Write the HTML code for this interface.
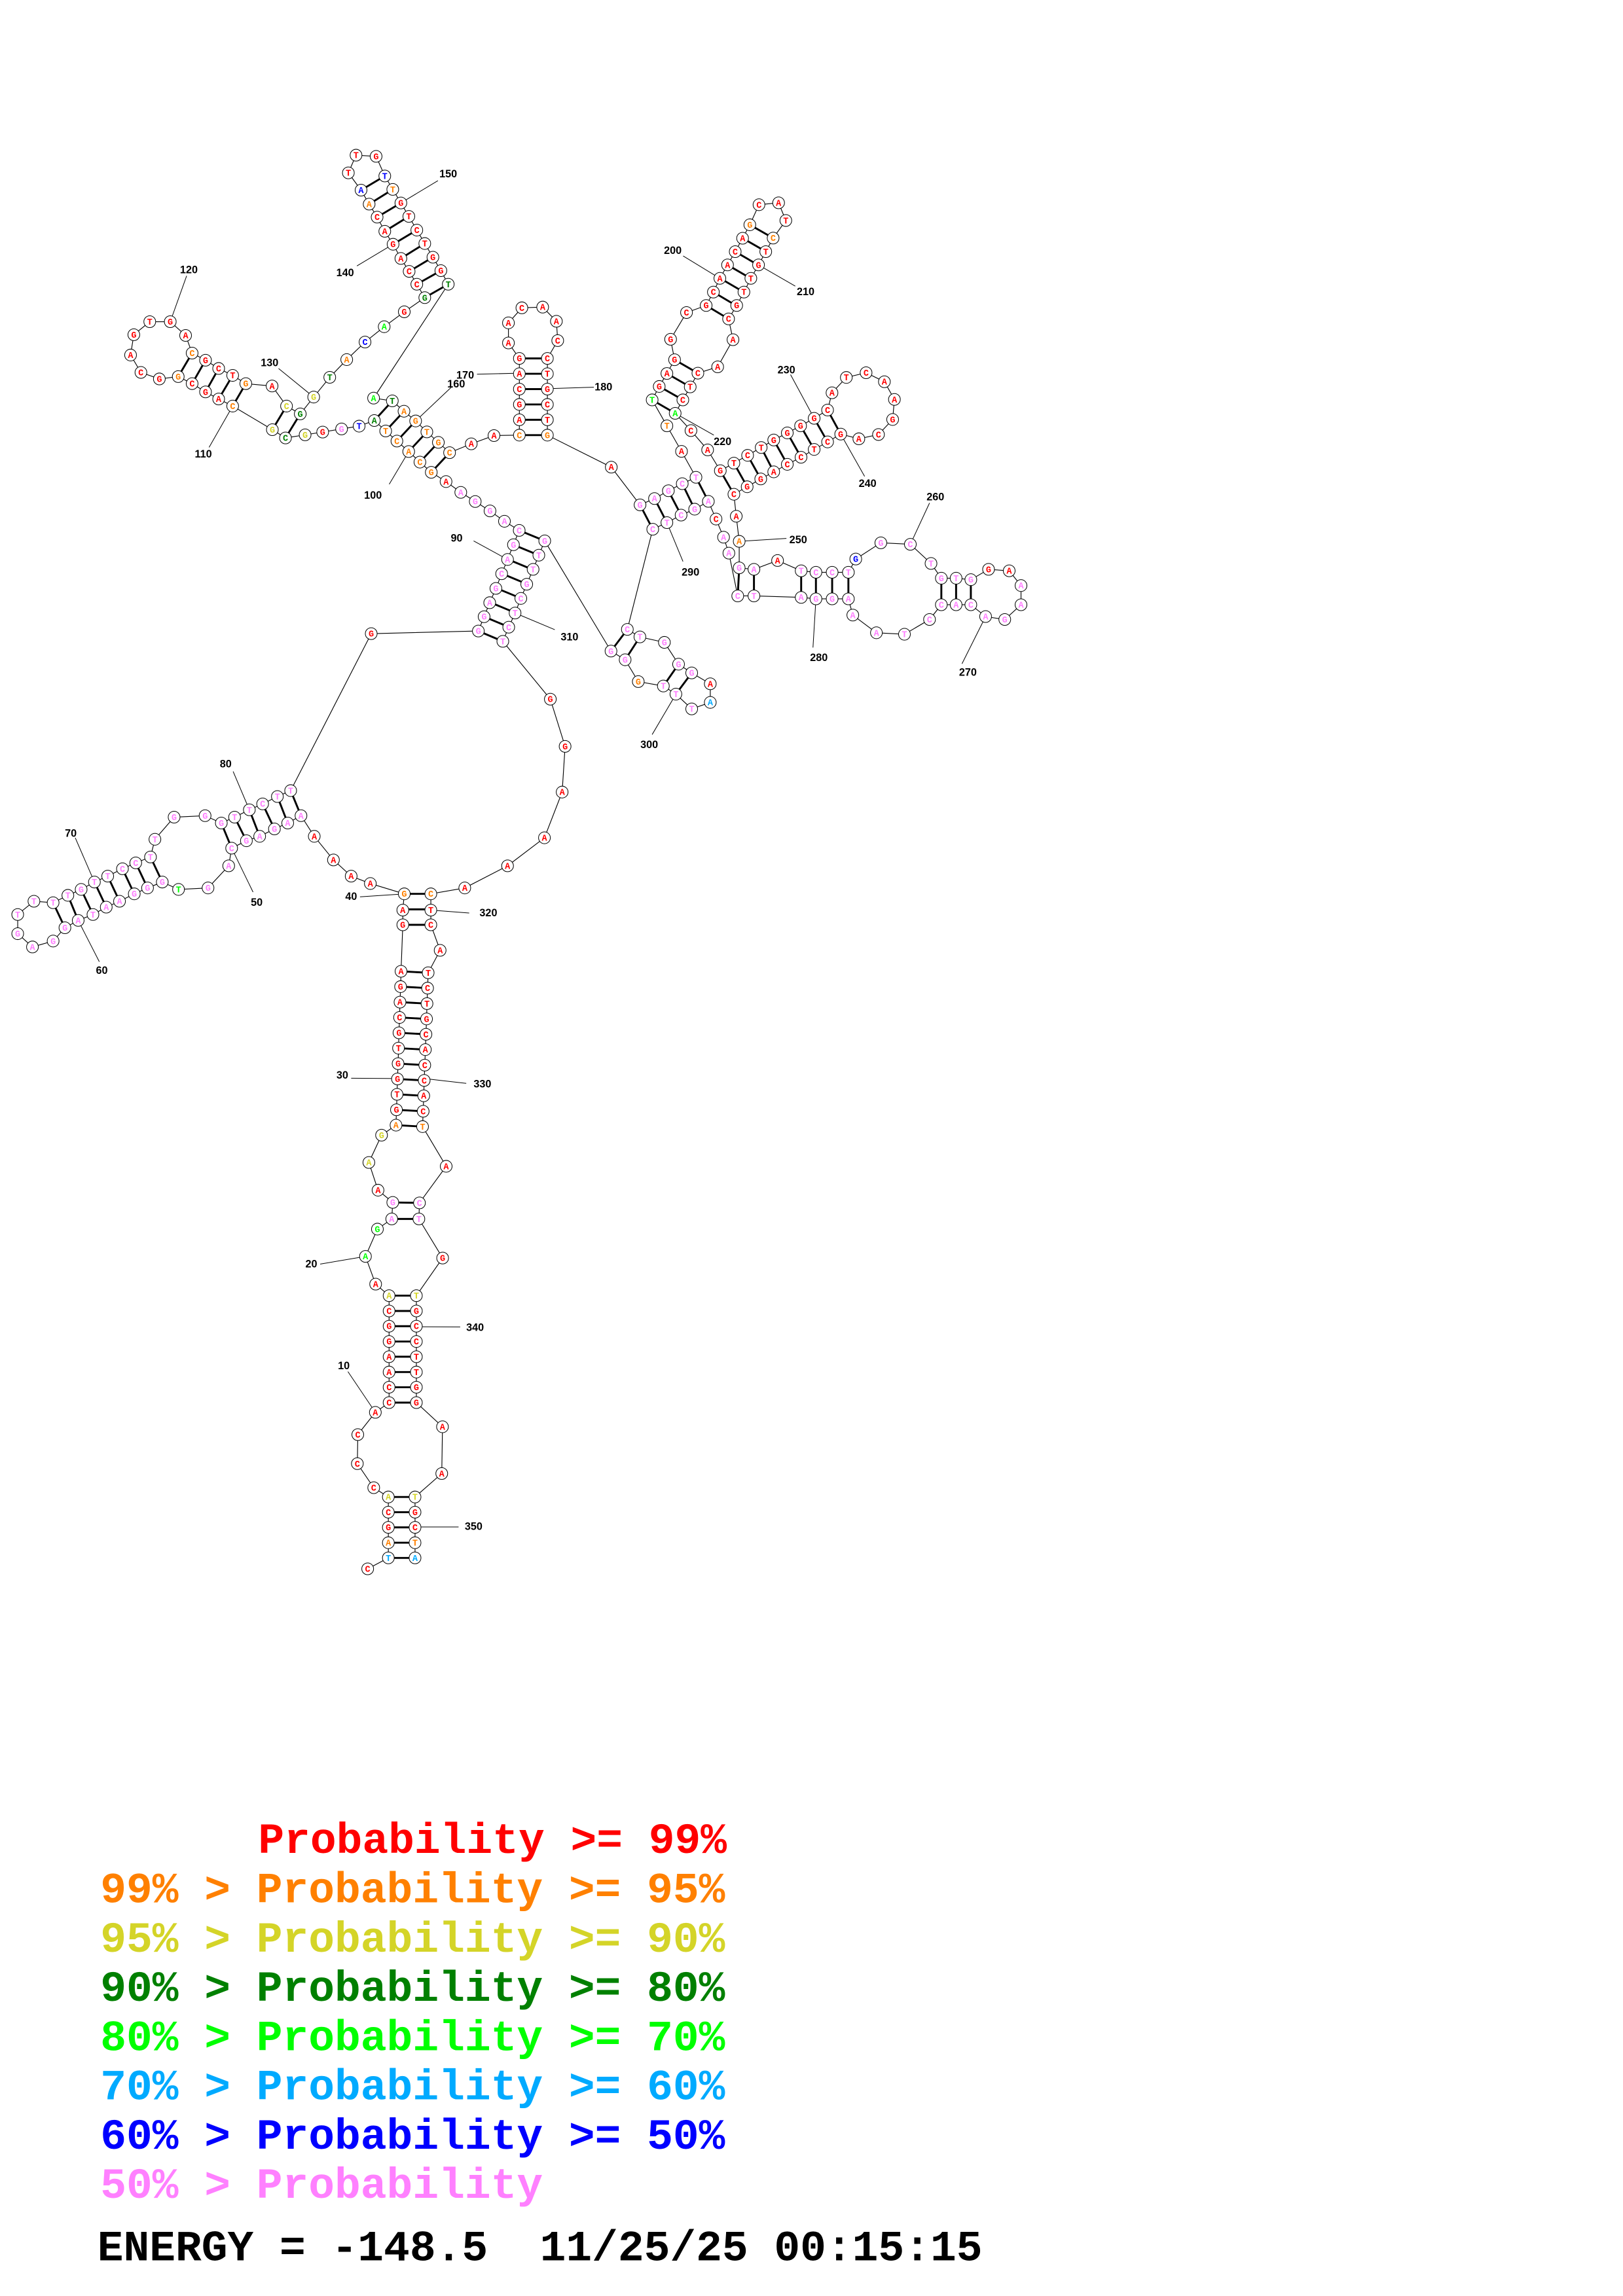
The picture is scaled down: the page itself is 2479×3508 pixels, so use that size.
<!DOCTYPE html>
<html><head><meta charset="utf-8"><style>
html,body{margin:0;padding:0;background:#fff;}
svg{display:block;}
.lg{font-family:"Liberation Mono",monospace;font-weight:bold;font-size:29.4px;white-space:pre;}
.lb{font-family:"Liberation Sans",sans-serif;font-weight:bold;font-size:7.2px;fill:#000;}
</style></head><body>
<svg id="s" width="2479" height="3508" viewBox="0 0 1100 1556.6" xmlns="http://www.w3.org/2000/svg">
<g id="lines" stroke="#000" stroke-width="0.45" fill="none">
<path d="M235.8,929.9L254.4,957.5M217,857L247.7,851.8M238,731L269.6,731.2M290,731.5L316,734.5M285.4,899.5L311.9,899.6M285.4,1035.2L310.8,1035.2M244,608L274,606M292,617L318,619M157,575L171.5,604.8M53,624L67.3,652M51,568L64,598M158,523L169,549M321,366.7L344,379.3M263.8,328.3L277,306.1M141.7,303.3L157.7,275.3M126.5,187L115.4,218.1M188.8,249.8L212.6,269.2M241.9,180.3L266.4,165.6M296.8,122.5L271.7,137.6M305.9,262.5L281.7,285.4M323.3,253.7L352,253M371,263.5L402.5,262.5M463,173.5L487.9,188.7M514.1,179.6L539,194M457.6,280.2L483.8,295M535.8,254L551.8,283.6M569.8,294.3L586,323M501,367L533,365M617,369L630,341M668,418L652,450M553,406L551,439M452,354.3L462.9,380.7M458.1,470.6L442,498M349.1,415.6L376,426.9"/>
</g>
<g id="g"></g>
<g class="lb" text-anchor="middle" dominant-baseline="central">
<text x="233" y="926">10</text><text x="211" y="857">20</text><text x="232" y="729">30</text><text x="238" y="608">40</text>
<text x="174" y="612">50</text><text x="69" y="658">60</text><text x="48" y="565">70</text><text x="153" y="518">80</text>
<text x="309.5" y="365">90</text><text x="252.8" y="336">100</text><text x="137.8" y="308">110</text><text x="128" y="183">120</text>
<text x="182.7" y="246">130</text><text x="233.9" y="185">140</text><text x="303.8" y="118">150</text><text x="309.2" y="260.5">160</text>
<text x="315.3" y="254.5">170</text><text x="409" y="262.5">180</text><text x="456" y="170">200</text><text x="546" y="198">210</text>
<text x="489.7" y="299.6">220</text><text x="533" y="251">230</text><text x="588" y="328">240</text><text x="541" y="366">250</text>
<text x="634" y="337">260</text><text x="656" y="456">270</text><text x="555" y="446">280</text><text x="468" y="388">290</text>
<text x="440" y="505">300</text><text x="386" y="432">310</text><text x="331" y="619">320</text><text x="327" y="735">330</text>
<text x="322" y="900">340</text><text x="321" y="1035">350</text>
</g>
<g class="lg">
<text x="175" y="1256.3" fill="#ff0000">Probability &gt;= 99%</text>
<text x="68" y="1289.7" fill="#ff8000">99% &gt; Probability &gt;= 95%</text>
<text x="68" y="1323.1" fill="#d4d428">95% &gt; Probability &gt;= 90%</text>
<text x="68" y="1356.5" fill="#008000">90% &gt; Probability &gt;= 80%</text>
<text x="68" y="1389.9" fill="#00ff00">80% &gt; Probability &gt;= 70%</text>
<text x="68" y="1423.3" fill="#00aaff">70% &gt; Probability &gt;= 60%</text>
<text x="68" y="1456.7" fill="#0000ff">60% &gt; Probability &gt;= 50%</text>
<text x="68" y="1490.1" fill="#ff80ff">50% &gt; Probability</text>
<text x="66" y="1532.5" fill="#000">ENERGY = -148.5&#160;&#160;11/25/25 00:15:15</text>
</g>
</svg>
<script>
(function(){
var R='#ff0000',O='#ff8000',Y='#d4d428',D='#008000',L='#00ff00',C='#00aaff',B='#0000ff',P='#ff80ff';
var ch=[];
function a(x,y,l,c){ch.push([x,y,l,c||R]);}
function col(x0,y0,x1,y1,ls,cs){var n=ls.length;for(var i=0;i<n;i++){var t=n>1?i/(n-1):0;a(x0+(x1-x0)*t,y0+(y1-y0)*t,ls[i],cs?cs[i]:R);}}
a(249.2,1063.6,'C');
col(263.2,1056.2,263.2,1014.9,'TAGCA',[C,O,R,R,Y]);
a(253.3,1008.6,'C');a(242.2,992.3,'C');a(242.5,972.6,'C');a(254.4,957.5,'A');
col(263.7,950.9,263.7,878.4,'CCAAGGCA',[R,R,R,R,R,R,R,Y]);
a(254.6,870.6,'A');a(247.7,851.8,'A',L);a(255.8,833.3,'G',L);
a(265.5,826.4,'A',P);a(266.2,815.2,'G',P);
a(256.2,806.9,'A');a(250,788.1,'A',Y);a(258.6,769.6,'G',Y);
col(268.4,762.8,271.8,658.5,'AGTGGTGCAGA',[O,R,R,R,R,R,R,R,R,R,R]);
a(273,627,'G');a(273,617,'A');a(274,606,'G',O);
a(251,599,'A');a(238,594,'A');a(226,583,'A');a(213,567,'A');
var p1=[[204,553,'A'],[195,558,'A'],[186,562,'G'],[176,567,'A'],[167,570,'G'],[157,575,'C'],[155,587,'A'],[141,602,'G'],[121,603,'T',L],[110,598,'G'],[100,602,'G'],[91,606,'G'],[81,611,'A'],[72,615,'A'],[63,620,'T'],[53,624,'A'],[44,629,'G'],[36,638,'G'],[22,642,'A'],[12,633,'G'],[12,620,'T'],[23,611,'T'],[36,612,'T'],[46,607,'T'],[55,603,'G'],[64,598,'T'],[73,594,'T'],[83,589,'C'],[92,585,'C'],[102,581,'T'],[105,569,'T'],[118,554,'G'],[139,553,'G'],[150,558,'G'],[159,554,'T'],[169,549,'T'],[178,545,'C'],[188,540,'T'],[197,536,'T']];
p1.forEach(function(q){a(q[0],q[1],q[2],q[3]||P);});
a(251.6,429.6,'G');
[[324.2,427.8,'G'],[328.1,418.1,'G'],[331.9,408.6,'A'],[336.1,398.9,'G'],[340,389,'C'],[344,379.3,'A'],[348,369.3,'G'],[351.9,359.6,'C'],[341.9,353.4,'A'],[332.1,346.4,'G'],[322.1,340,'G'],[312.3,333.8,'A']].forEach(function(q){a(q[0],q[1],q[2],P);});
a(302.3,326.5,'A');
[[292.3,320.2,'G',O],[284.6,313.3,'C',O],[277,306.1,'A',O],[269,299,'C',O],[261.4,292.2,'T',O],[253.7,285.1,'A',D],[243.4,288.9,'T',B],[231.5,290.8,'G',P],[218.7,292.9,'G',R],[206.8,294.8,'G',Y],[193.5,296.9,'C',D],[184.6,291.3,'G',Y],[157.7,275.3,'C',O],[148.2,270.5,'A',R],[139.3,265.7,'G',R],[130.2,260.1,'C',R],[120.8,255.3,'G',O],[108,256.9,'G',R],[95.5,252.5,'C',R],[88.5,240.7,'A',R],[90.7,226.9,'G',R],[101.5,218.1,'T',R],[115.4,218.1,'G',R],[125.8,227.4,'A',R],[130.2,239.4,'C',O],[139.3,244.2,'G',R],[148.2,249.8,'C',R],[157.7,254.5,'T',R],[166.6,260.1,'G',O],[184.4,261.7,'A',R],[194.2,275.3,'C',Y],[203.5,280.6,'G',D],[212.6,269.2,'G',Y],[223.5,255.8,'T',D],[235,243.8,'A',O],[247.4,231.9,'C',B],[260.4,221.5,'A',L],[274,211.4,'G',R],[287.9,201.8,'G',D],[282.5,192.7,'C',R],[277.3,184,'C',R],[271.7,175.2,'A',R],[266.4,165.6,'G',R],[260.8,156.8,'A',R],[255.6,147.2,'C',R],[250.2,138.4,'A',O],[244.7,128.9,'A',B],[236.1,117.2,'T',R],[241.3,105.2,'T',R],[254.9,106,'G',R],[260.8,119.3,'T',B],[266.2,128.4,'T',O],[271.7,137.6,'G',R],[277.1,146.7,'T',R],[282.5,156,'C',R],[287.9,165.1,'T',R],[293.4,174.4,'G',R],[298.8,183.5,'G',R],[303.8,192.7,'T',D],[253.2,269.9,'A',L],[265.9,271.8,'T',D],[273.8,278.8,'A',O],[281.7,285.4,'G',O],[289.3,292.8,'T',O],[297.1,299.9,'G',O],[304.7,306.9,'C',O],[319.4,300.9,'A',R],[334.8,295.3,'A',R]].forEach(function(q){a(q[0],q[1],q[2],q[3]);});
col(352,295,352,243,'CAGCAG',[O,R,R,R,R,R]);
a(344.6,232.5,'A');a(344.6,218.9,'A');a(353.7,208.7,'C');a(367.8,208.2,'A');a(377.1,217.8,'A');a(378,230.9,'C');
col(371,243,371,295,'CTGCTG',[R,R,R,R,R,O]);
a(414.3,316.7,'A');
[[433.8,342.3,'G',P],[443.6,338,'A',P],[453,332.7,'G',P],[462.4,327.9,'C',P],[471.7,323.6,'T',P],[461.9,306,'A',R],[452,288.7,'T',O],[442,271.1,'T',L],[446.8,262,'G'],[452,253.2,'A'],[457.2,243.9,'G'],[454.5,230,'G'],[465.3,211.9,'C'],[478.6,207.1,'G'],[483.5,198,'C'],[487.9,188.7,'A'],[493.1,179.6,'A'],[498.3,170.6,'C'],[503.3,161.5,'A'],[508.2,152.4,'G',O],[514.4,138.8,'C'],[527.7,137.5,'A'],[532.6,149.5,'T'],[524,161.4,'C',O],[519,170.6,'T'],[514.1,179.6,'G'],[508.9,188.7,'T'],[504.2,198,'T'],[499.3,207.1,'G'],[493.8,216.2,'C'],[496.8,230.3,'A'],[486.4,248.7,'A'],[473,253,'C'],[467.8,262.3,'T'],[462.8,271.1,'C'],[457.6,280.2,'A',L],[468.3,291.9,'C'],[479.6,305,'A'],
[488.2,319.1,'G'],[497.4,314,'T'],[506.7,308.7,'C'],[515.9,303.4,'T'],[524.4,298.3,'G'],[533.6,293.5,'G'],[542.6,288.7,'G'],[551.8,283.6,'G'],[560.9,278,'C'],[563.9,266.3,'A'],[573.6,255.9,'T'],[587,252.7,'C'],[599.4,258.8,'A'],[606.2,270.8,'A'],[605,284.4,'G'],[595.4,294.6,'C'],[582.1,297.5,'A'],[569.8,294.3,'G'],[560.9,299.6,'C'],[551.8,304.7,'T'],[542.9,310,'C'],[533.6,314.8,'C'],[524.4,319.9,'A'],[515.6,324.7,'G'],[506.4,330,'G'],[497.4,335.1,'C'],[499,350,'A'],[501,367,'A',O],
[501,385,'G',P],[511,386,'A',P],[527,380,'A',R],[543,387,'T',P],[553,388,'C',P],[564,388,'C',P],[575,388,'T',P],[580,379,'G',B],[597,368,'G',P],[617,369,'C',P],[631,382,'T',P],[638,392,'G',P],[648,392,'T',P],[658,393,'G',P],[670,386,'G',R],[684,387,'A',R],[692,397,'A',P],[692,410,'A',P],[681,420,'G',P],[668,418,'A',P],[658,410,'C',P],[648,410,'A',P],[638,410,'C',P],[630,420,'C',P],[613,430,'T',P],[594,429,'A',P],[578,417,'A',P],[575,406,'A',P],[564,406,'G',P],[553,406,'G',P],[543,405,'A',P],[511,404,'T',P],[500,404,'C',P],[494,375,'A',P],[490.4,364.2,'A',P],[485.3,351.9,'C',R],[480.1,339.9,'A',P],[470.8,345.2,'G',P],[461.6,349.2,'C',P],[452,354.3,'T',P],[442.4,358.8,'C',P],
[425.2,426.7,'C',P],[433.7,431.8,'T',P],[450.3,435.5,'G',P],[459.9,450.3,'G',P],[468.8,456.2,'G',P],[481.4,463.6,'A',R],[481.4,476.2,'A',C],[468.8,480.6,'T',P],[458.1,470.6,'T',P],[449.6,465.1,'T',P],[432.6,462.1,'G',O],[423.7,447.3,'G',P],[414.1,441.4,'G',P],
[369.2,366.7,'G',P],[365.2,376.4,'T',P],[361.3,386,'T',P],[357,396.1,'G',P],[353,405.7,'C',P],[349.1,415.6,'T',P],[344.8,425.2,'C',P],[340.8,434.8,'T',P],
[373,474,'G'],[383,506,'G'],[381,537,'A'],[369,568,'A'],[344,587,'A'],[315,602,'A'],[292,606,'C',O],[292,617,'T'],[292,627,'C'],[298.3,644.3,'A']].forEach(function(q){a(q[0],q[1],q[2],q[3]||R);});
col(290.2,659.5,286.4,763.8,'TCTGCACCACT',[R,R,R,R,R,R,R,R,R,R,O]);
a(302.4,790.7,'A');a(284.3,815.5,'C',P);a(283.9,826.4,'T',P);a(300,852.9,'G');
col(282.2,878.4,282.2,950.9,'TGCCTTGG',[Y,R,R,R,R,R,R,R]);
a(299.9,967.3,'A');a(299.4,999,'A');
col(281.3,1014.9,281.3,1056.2,'TGCTA',[Y,R,R,O,C]);

var pr=[];
function hp(x0,y0,x1,y1,u0,v0,u1,v1,n){for(var i=0;i<n;i++){var t=n>1?i/(n-1):0;pr.push([x0+(x1-x0)*t,y0+(y1-y0)*t,u0+(u1-u0)*t,v0+(v1-v0)*t]);}}
hp(263.2,1056.2,263.2,1014.9,281.3,1056.2,281.3,1014.9,5);
hp(263.7,950.9,263.7,878.4,282.2,950.9,282.2,878.4,8);
pr.push([265.5,826.4,283.9,826.4],[266.2,815.2,284.3,815.5]);
hp(268.4,762.8,271.8,658.5,286.4,763.8,290.2,659.5,11);
hp(273,627,274,606,292,627,292,606,3);
pr.push([204,553,197,536],[195,558,188,540],[186,562,178,545],[176,567,169,549],[167,570,159,554],[157,575,150,558]);
pr.push([110,598,102,581],[100,602,92,585],[91,606,83,589],[81,611,73,594],[72,615,64,598],[63,620,55,603],[53,624,46,607],[44,629,36,612]);
hp(324.2,427.8,351.9,359.6,340.8,434.8,369.2,366.7,8);
pr.push([292.3,320.2,304.7,306.9],[284.6,313.3,297.1,299.9],[277,306.1,289.3,292.8],[269,299,281.7,285.4],[261.4,292.2,273.8,278.8],[253.7,285.1,265.9,271.8]);
pr.push([166.6,260.1,157.7,275.3],[157.7,254.5,148.2,270.5],[148.2,249.8,139.3,265.7],[139.3,244.2,130.2,260.1],[130.2,239.4,120.8,255.3]);
pr.push([184.6,291.3,194.2,275.3],[193.5,296.9,203.5,280.6]);
pr.push([287.9,201.8,303.8,192.7],[282.5,192.7,298.8,183.5],[277.3,184,293.4,174.4],[271.7,175.2,287.9,165.1],[266.4,165.6,282.5,156],[260.8,156.8,277.1,146.7],[255.6,147.2,271.7,137.6],[250.2,138.4,266.2,128.4],[244.7,128.9,260.8,119.3]);
hp(352,295,352,243,371,295,371,243,6);
pr.push([442,271.1,457.6,280.2],[446.8,262,462.8,271.1],[452,253.2,467.8,262.3],[457.2,243.9,473,253]);
hp(478.6,207.1,508.2,152.4,493.8,216.2,524,161.4,7);
var h1=[[488.2,319.1],[497.4,314],[506.7,308.7],[515.9,303.4],[524.4,298.3],[533.6,293.5],[542.6,288.7],[551.8,283.6],[560.9,278]];
var h2=[[497.4,335.1],[506.4,330],[515.6,324.7],[524.4,319.9],[533.6,314.8],[542.9,310],[551.8,304.7],[560.9,299.6],[569.8,294.3]];
for(var i=0;i<9;i++)pr.push([h1[i][0],h1[i][1],h2[i][0],h2[i][1]]);
pr.push([433.8,342.3,442.4,358.8],[443.6,338,452,354.3],[453,332.7,461.6,349.2],[462.4,327.9,470.8,345.2],[471.7,323.6,480.1,339.9]);
pr.push([501,385,500,404],[511,386,511,404]);
pr.push([543,387,543,405],[553,388,553,406],[564,388,564,406],[575,388,575,406]);
pr.push([638,392,638,410],[648,392,648,410],[658,393,658,410]);
pr.push([414.1,441.4,425.2,426.7],[423.7,447.3,433.7,431.8],[459.9,450.3,449.6,465.1],[468.8,456.2,458.1,470.6]);

var NS='http://www.w3.org/2000/svg',g=document.getElementById('g');
function el(t,at){var e=document.createElementNS(NS,t);for(var k in at)e.setAttribute(k,at[k]);return e;}
var d='M'+ch.map(function(q){return q[0].toFixed(1)+','+q[1].toFixed(1);}).join('L');
g.appendChild(el('path',{d:d,stroke:'#000','stroke-width':'0.5',fill:'none'}));
var pd='';pr.forEach(function(q){pd+='M'+q[0].toFixed(1)+','+q[1].toFixed(1)+'L'+q[2].toFixed(1)+','+q[3].toFixed(1);});
g.appendChild(el('path',{d:pd,stroke:'#000','stroke-width':'1.3',fill:'none'}));
ch.forEach(function(q){
g.appendChild(el('circle',{cx:q[0].toFixed(1),cy:q[1].toFixed(1),r:'4',fill:'#fff',stroke:'#000','stroke-width':'0.45'}));
var t=el('text',{x:q[0].toFixed(1),y:(q[1]+2).toFixed(1),'text-anchor':'middle',fill:q[3],'font-family':'Liberation Mono, monospace','font-weight':'bold','font-size':'6'});
t.textContent=q[2];g.appendChild(t);
});
})();
</script>
</body></html>
